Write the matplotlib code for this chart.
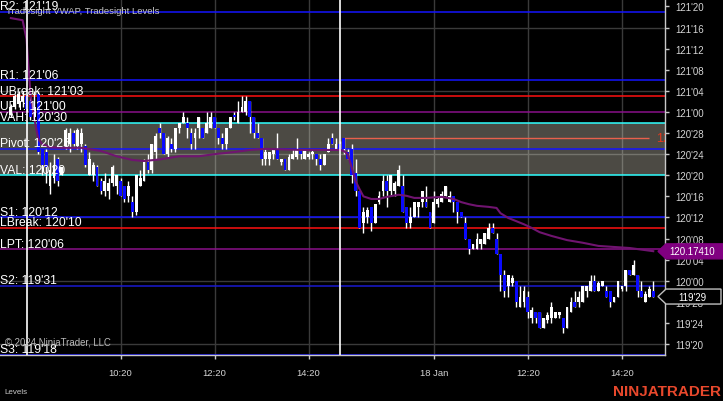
import matplotlib
matplotlib.use("Agg")
import matplotlib.pyplot as plt
import matplotlib.transforms as mtransforms
from matplotlib.patches import Polygon

plt.rcParams['font.family'] = ['Liberation Sans', 'DejaVu Sans']

# ---------------- data (prices in 32nds above 119'00) ----------------
first_bar = -4  # bar 0 = 08:20 session open, 5-minute bars
opens = [63.5, 65, 65.5, 66, 67, 66, 63, 67.5, 57, 56.5, 50, 51.5, 55, 52, 57.5, 58, 60, 57.5, 58, 57.5,
         52, 52, 53.5, 51, 49, 49, 50.5, 50, 51, 50, 48, 47, 45, 50, 51, 54.5, 53, 56.5, 61, 60,
         56, 58, 57, 61, 62, 62, 60, 59, 61, 61, 60, 61, 63, 61, 59, 58, 61, 63.5, 62, 64,
         64, 66, 63, 60, 59, 55, 55, 56, 57, 54.5, 55, 53, 55, 55.5, 57, 55, 55.5, 56, 56, 55,
         54, 56.5, 59, 57, 58, 59, 56.5, 57, 52.5, 49, 43, 44, 46, 43, 47, 49, 51, 49, 49, 50,
         50, 46, 43, 44, 46, 47, 47, 45, 43, 46.5, 47, 48, 47, 48, 47, 45, 43, 40, 38, 38,
         39, 39, 40, 42, 40, 37, 33, 31, 31.5, 32, 27, 28, 29, 25, 26, 26, 23, 24.5, 25, 25,
         25.5, 25, 23, 26, 28, 28, 28, 30, 30, 32, 30, 31, 30, 30, 28, 29, 30.5, 31, 34, 33,
         33, 30, 28, 29, 30]
highs = [65.5, 67.5, 68, 68, 67.5, 67, 68, 68, 57, 57, 54.5, 56, 55.5, 53.5, 61, 61, 60.5, 61, 61, 58,
         56.5, 54.5, 54, 51.5, 52.5, 51.5, 54, 52, 51.5, 50, 51, 48, 52, 53, 55, 56, 58, 60, 62, 60,
         59.5, 59, 61, 62, 64, 63, 61, 61, 63, 61, 64, 64, 63, 61, 60, 61, 63, 64, 66, 67,
         67, 66, 63, 62, 59, 57, 56.5, 57, 60, 55, 55, 56, 57, 59, 57, 57, 56.5, 57, 56, 56,
         56, 59, 60, 59, 58.5, 59, 57, 58, 55, 49, 46, 46, 46, 46.5, 49, 52, 52, 52, 51, 54,
         52, 46, 46, 47, 47, 49, 50, 45, 49, 48, 49, 50, 49, 48, 47, 45, 44, 40, 39, 41,
         40, 41, 43, 43, 41, 37, 34, 33, 33, 32, 31, 31, 30, 27, 26, 26, 25, 26, 28, 26,
         26, 25, 27, 29, 30, 30, 31, 31, 33, 33, 32, 32, 31, 30, 29, 32, 31, 34, 34, 36,
         33, 32, 30, 31, 32]
lows = [63, 64.5, 65, 65, 64, 62.5, 63, 56, 52, 50.5, 48.5, 50.5, 50, 52, 57, 56.5, 57.5, 57, 56.5, 53.5,
        52, 51, 50, 48.5, 48, 47.5, 50, 48.5, 48, 47, 47, 44, 44.5, 50, 51, 52.5, 52.5, 55, 59, 56,
        55.5, 56.5, 56.5, 60, 62, 59, 57, 57, 59, 59, 60, 61, 61, 58, 57, 57, 61, 62.5, 62, 64,
        63.5, 60, 59, 59, 54, 54, 54, 55, 55, 54, 53, 53, 55, 55, 55, 55, 55, 55, 54, 53,
        54, 56.5, 58, 57, 57, 56, 55, 50.5, 48, 42, 41, 43, 41.5, 43, 46.5, 48, 46, 48, 48, 50,
        45, 42, 42, 44, 44, 46, 46, 42, 43, 46, 47, 48, 47, 45, 43, 44, 40, 37, 38, 38,
        38, 39, 40, 41, 37, 30, 29, 29, 31, 27, 27, 27, 25, 24, 24, 23, 23, 24, 24, 25,
        25, 22, 23, 26, 27, 27, 28, 29, 30, 30, 30, 31, 29, 27, 28, 29, 30, 30, 33, 33,
        29, 29, 28, 29, 29]
closes = [65, 67, 67.5, 67, 64.5, 63, 65, 56.5, 54, 53.5, 53, 54, 51, 53.5, 60.5, 60, 58, 60.5, 60, 54,
          55, 54, 50, 49, 51, 50.5, 53.5, 52, 48, 47.5, 50, 45, 52, 51.5, 54.5, 53, 58, 59.5, 60, 56,
          59, 57, 61, 62, 63, 61, 58, 60, 63, 59, 62, 63, 61, 59, 58, 61, 63, 63, 64, 65,
          66, 63, 60, 59, 55, 56.5, 56.5, 57, 55, 55, 53, 55.5, 56, 57, 56, 57, 56, 56.5, 55, 54,
          56, 58, 58, 58, 57, 57, 55, 52, 49, 42, 45, 45.5, 43, 46.5, 48, 51, 49, 52, 50.5, 53,
          45, 43, 44, 47, 47, 49, 46, 42, 47, 47.5, 48.5, 50, 48, 47, 45, 44, 40, 38, 39, 40,
          40, 41, 42, 41, 37, 33, 30, 33, 32.5, 28, 29, 30, 26, 26.5, 25, 23, 25, 25.5, 27, 26,
          26, 23, 27, 28, 27, 29, 31, 31, 32, 30, 31.5, 32, 29, 28, 29, 32, 31, 34, 33, 35,
          30, 29, 29.5, 30.5, 29]

# VWAP readings (bar index, 32nds above 119'00)
vwap_bars = [-4, -1, 0, 1, 2, 3, 4, 6, 10, 14, 19, 23, 27, 30, 34, 39, 44, 48, 53, 57, 61, 70, 80, 81, 82,
             83, 84, 85, 86, 88, 90, 92, 95, 97, 99, 102, 106, 109, 111, 113, 115, 118, 120, 121, 123,
             125, 127, 129, 131, 134, 138, 142, 146, 150, 154, 158, 160]
vwap_32 = [81.8, 81.4, 77.8, 67.4, 62.7, 58.9, 57.9, 57.3, 57.2, 57.2, 56.6, 55.6, 54.9, 54.7, 55.0, 55.6, 55.6,
           56.0, 56.4, 56.8, 57.0, 56.8, 56.8, 56.6, 56.0, 53.5, 50.9, 49.4, 48.0, 47.5, 47.5, 47.9, 48.3,
           48.1, 47.7, 47.7, 47.9, 47.5, 46.9, 46.5, 46.2, 46.0, 45.8, 44.8, 43.9, 43.3, 42.7, 42.0, 41.2,
           40.5, 39.7, 39.2, 38.6, 38.4, 38.2, 37.8, 37.6]
vwap_current = 120.17410

# Tradesight levels
level_names = ["R2", "R1", "UBreak", "UPT", "VAH", "Pivot", "VAL", "S1", "LBreak", "LPT", "S2", "S3"]
level_handles = [121, 121, 121, 121, 120, 120, 120, 120, 120, 120, 119, 119]
level_32nds = [19, 6, 3, 0, 30, 25, 20, 12, 10, 6, 31, 18]
level_colors = ['#1414ff', '#1414ff', '#ff1010', '#8a108a', '#30ffff', '#1414ff', '#30ffff',
                '#1414ff', '#ff1010', '#8a108a', '#1a1ad0', '#1414ff']

target_handle, target_32 = 120, 27
target_start_bar, target_end_bar = 81, 159

session_bars = [0, 80]
tick_bars = [24, 48, 72, 104, 128, 152]
tick_labels = ["10:20", "12:20", "14:20", "18 Jan", "12:20", "14:20"]
ytick_32 = list(range(20, 85, 4))
grid_32 = [20, 32, 44, 56, 68, 80]


def to_price(v32):
    return 119 + v32 / 32.0


def fmt32(v32):
    total = int(round(119 * 32 + v32))
    return f"{total // 32}'{total % 32:02d}"


# ---------------- figure ----------------
W, H = 723, 402
fig = plt.figure(figsize=(W / 100, H / 100), dpi=100, facecolor='black')
ax = fig.add_axes([0, (H - 355.5) / H, 665 / W, 355.5 / H])
ax.set_facecolor('black')


def fx(x):
    return x / W


def fy(y):
    return 1 - y / H


# grid
for g in grid_32:
    ax.axhline(to_price(g), color='#3a3a3a', lw=1.0, zorder=0.5)
for tb in tick_bars:
    ax.axvline(tb, color='#3a3a3a', lw=1.0, zorder=0.5)

# value area fill
vah = level_handles[4] + level_32nds[4] / 32
val = level_handles[6] + level_32nds[6] / 32
ax.axhspan(val, vah, color='#fdf7e3', alpha=0.3, lw=0, zorder=1)

# level lines + labels
for name, hnd, n32, col in zip(level_names, level_handles, level_32nds, level_colors):
    p = hnd + n32 / 32
    ax.axhline(p, color=col, lw=1.1, zorder=2)
    ax.annotate(f"{name}: {hnd}'{n32:02d}", xy=(0, p), xycoords=('axes fraction', 'data'),
                xytext=(0.3, 1.8), textcoords='offset points', color='white', fontsize=8.7,
                ha='left', va='baseline', zorder=8, annotation_clip=False)

# target line
tp = target_handle + target_32 / 32
ax.hlines(tp, target_start_bar, target_end_bar, color='#e8604c', lw=1.0, zorder=2)
ax.text(160.6, tp, f"{target_handle}'{target_32:02d}", color='#e83a1e', fontsize=9,
        va='center', ha='left', clip_on=True, zorder=3)

# candles
bars = list(range(first_bar, first_bar + len(opens)))
o = [to_price(v) for v in opens]
hi = [to_price(v) for v in highs]
lo = [to_price(v) for v in lows]
c = [to_price(v) for v in closes]
ax.vlines(bars, lo, hi, color='white', lw=1.0, zorder=3)
bottoms = [min(a, b) for a, b in zip(o, c)]
heights = [max(abs(a - b), 0.15 / 32) for a, b in zip(o, c)]
colors = ['white' if cc >= oo else '#0a0aff' for oo, cc in zip(o, c)]
ax.bar(bars, heights, bottom=bottoms, width=0.72, color=colors, linewidth=0, zorder=3.5)

# VWAP
ax.plot(vwap_bars, [to_price(v) for v in vwap_32], color='#701470', lw=1.5, zorder=4)

# session breaks
for sb in session_bars:
    ax.axvline(sb, color='white', lw=1.2, zorder=5)

# axes
ax.set_xlim(-6.77, 163.0)
ax.set_ylim(119.5628, 121.6694)
ax.yaxis.tick_right()
ax.set_yticks([to_price(v) for v in ytick_32])
ax.set_yticklabels([fmt32(v) for v in ytick_32])
ax.set_xticks(tick_bars)
ax.set_xticklabels(tick_labels)
ax.tick_params(axis='y', colors='#c8c8c8', labelcolor='#d4d4d4', length=3, width=1, pad=4.5, labelsize=7)
ax.tick_params(axis='x', colors='#c8c8c8', labelcolor='#d4d4d4', length=3, width=1, pad=7, labelsize=6.8)
for s in ['left', 'top']:
    ax.spines[s].set_visible(False)
for s in ['right', 'bottom']:
    ax.spines[s].set_color('#c8c8c8')
    ax.spines[s].set_linewidth(1.0)

# price markers on the axis
bt = mtransforms.blended_transform_factory(fig.transFigure, ax.transData)
hh = 7.5 / 168.75
yv = vwap_current
fig.add_artist(Polygon([(fx(658), yv), (fx(666), yv + hh), (1.0, yv + hh), (1.0, yv - hh), (fx(666), yv - hh)],
                       closed=True, transform=bt, facecolor='#800080', edgecolor='#800080', zorder=10))
fig.text(fx(692), yv, f"{vwap_current:.5f}", transform=bt, color='white', fontsize=7,
         ha='center', va='center', zorder=11)
yl = to_price(closes[-1])
fig.add_artist(Polygon([(fx(658), yl), (fx(666), yl + hh), (fx(721), yl + hh), (fx(721), yl - hh), (fx(666), yl - hh)],
                       closed=True, transform=bt, facecolor='black', edgecolor='#c0c0c0', lw=1, zorder=10))
fig.text(fx(692), yl, fmt32(closes[-1]), transform=bt, color='white', fontsize=7,
         ha='center', va='center', zorder=11)

# texts
fig.text(fx(6), fy(11), "Tradesight VWAP, Tradesight Levels", color='#c8c8c8', fontsize=6.8,
         ha='left', va='center', zorder=12)
fig.text(fx(5), fy(343), "\u00a9 2024 NinjaTrader, LLC", color='#b8b8b8', fontsize=6.9,
         ha='left', va='center', zorder=12)
fig.text(fx(4), fy(393), "Levels", color='#c8c8c8', fontsize=5.8, ha='left', va='center')
fig.text(fx(721), fy(392.5), "NINJATRADER", color='#e8482c', fontsize=11, fontweight='bold',
         ha='right', va='center')

fig.savefig('out.png', dpi=100, facecolor='black')
